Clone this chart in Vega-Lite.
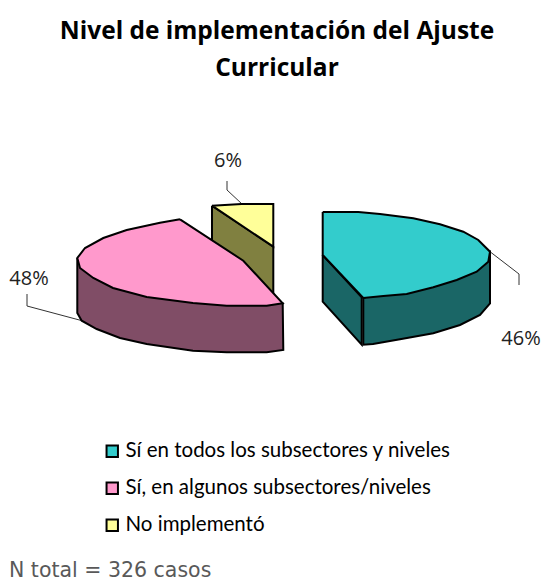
{
"$schema":"https://vega.github.io/schema/vega-lite/v6.json",
"width":544,"height":581,"padding":0,"autosize":{"type":"none"},
"background":"white",
"title":{"text":["Nivel de implementación del Ajuste","Curricular"],"orient":"top","anchor":"middle","frame":"group","offset":-81,"dx":5,"font":"Open Sans","fontSize":24.5,"fontWeight":"bold","color":"#000000","lineHeight":37},
"config":{"view":{"stroke":null}},
"datasets":{
"olive":[{"x":212,"y":205.7,"o":1},{"x":273.3,"y":246.7,"o":2},{"x":273.3,"y":300,"o":3},{"x":212,"y":250,"o":4},{"x":212,"y":205.7,"o":5}],
"pinkside":[{"x":77.3,"y":258,"o":1},{"x":77.3,"y":313,"o":2},{"x":81.7,"y":320.7,"o":3},{"x":96.7,"y":329,"o":4},{"x":120,"y":338,"o":5},{"x":146.7,"y":344,"o":6},{"x":193,"y":350.7,"o":7},{"x":226.7,"y":352.3,"o":8},{"x":266.7,"y":352.3,"o":9},{"x":283.3,"y":350,"o":10},{"x":282.7,"y":303.3,"o":11},{"x":77.3,"y":258,"o":12}],
"tealcut":[{"x":322.7,"y":255,"o":1},{"x":361.7,"y":297.3,"o":2},{"x":361.7,"y":344.7,"o":3},{"x":322.7,"y":301.7,"o":4},{"x":322.7,"y":255,"o":5}],
"tealside":[{"x":363.3,"y":298,"o":1},{"x":363.3,"y":344.7,"o":2},{"x":373,"y":344,"o":3},{"x":400,"y":339.3,"o":4},{"x":433.3,"y":333.3,"o":5},{"x":460,"y":325,"o":6},{"x":480,"y":315,"o":7},{"x":490,"y":303.3,"o":8},{"x":490,"y":251.7,"o":9},{"x":363.3,"y":298,"o":10}],
"tops":[
{"c":"Sí en todos los subsectores y niveles","x":322.7,"y":212,"o":1},{"c":"Sí en todos los subsectores y niveles","x":358.3,"y":212,"o":2},{"c":"Sí en todos los subsectores y niveles","x":380,"y":214,"o":3},{"c":"Sí en todos los subsectores y niveles","x":413.3,"y":218.3,"o":4},{"c":"Sí en todos los subsectores y niveles","x":440,"y":224.3,"o":5},{"c":"Sí en todos los subsectores y niveles","x":463.3,"y":231.7,"o":6},{"c":"Sí en todos los subsectores y niveles","x":478.3,"y":240,"o":7},{"c":"Sí en todos los subsectores y niveles","x":490,"y":251.7,"o":8},{"c":"Sí en todos los subsectores y niveles","x":488.3,"y":261.7,"o":9},{"c":"Sí en todos los subsectores y niveles","x":476.7,"y":271.7,"o":10},{"c":"Sí en todos los subsectores y niveles","x":456.7,"y":280,"o":11},{"c":"Sí en todos los subsectores y niveles","x":433.3,"y":287.3,"o":12},{"c":"Sí en todos los subsectores y niveles","x":406.7,"y":294,"o":13},{"c":"Sí en todos los subsectores y niveles","x":383.3,"y":296,"o":14},{"c":"Sí en todos los subsectores y niveles","x":363.3,"y":298,"o":15},{"c":"Sí en todos los subsectores y niveles","x":322.7,"y":255,"o":16},{"c":"Sí en todos los subsectores y niveles","x":322.7,"y":212,"o":17},
{"c":"Sí, en algunos subsectores/niveles","x":180,"y":219.3,"o":1},{"c":"Sí, en algunos subsectores/niveles","x":160,"y":222.7,"o":2},{"c":"Sí, en algunos subsectores/niveles","x":126.7,"y":230,"o":3},{"c":"Sí, en algunos subsectores/niveles","x":103.3,"y":238,"o":4},{"c":"Sí, en algunos subsectores/niveles","x":85,"y":248,"o":5},{"c":"Sí, en algunos subsectores/niveles","x":77.3,"y":258,"o":6},{"c":"Sí, en algunos subsectores/niveles","x":80,"y":268,"o":7},{"c":"Sí, en algunos subsectores/niveles","x":93.3,"y":278,"o":8},{"c":"Sí, en algunos subsectores/niveles","x":113,"y":288,"o":9},{"c":"Sí, en algunos subsectores/niveles","x":146.7,"y":297,"o":10},{"c":"Sí, en algunos subsectores/niveles","x":193,"y":303,"o":11},{"c":"Sí, en algunos subsectores/niveles","x":226.7,"y":305.7,"o":12},{"c":"Sí, en algunos subsectores/niveles","x":266.7,"y":305.7,"o":13},{"c":"Sí, en algunos subsectores/niveles","x":282.7,"y":303.3,"o":14},{"c":"Sí, en algunos subsectores/niveles","x":243.3,"y":260.7,"o":15},{"c":"Sí, en algunos subsectores/niveles","x":180,"y":219.3,"o":16},
{"c":"No implementó","x":212,"y":205.7,"o":1},{"c":"No implementó","x":241.7,"y":204,"o":2},{"c":"No implementó","x":273.3,"y":204,"o":3},{"c":"No implementó","x":273.3,"y":246.7,"o":4},{"c":"No implementó","x":212,"y":205.7,"o":5}
],
"leaders":[
{"s":"a","x":227,"y":181,"o":1},{"s":"a","x":227,"y":190,"o":2},{"s":"a","x":242,"y":204,"o":3},
{"s":"b","x":27,"y":294,"o":1},{"s":"b","x":27,"y":306,"o":2},{"s":"b","x":82,"y":320.7,"o":3},
{"s":"c","x":490,"y":251.7,"o":1},{"s":"c","x":519,"y":274,"o":2},{"s":"c","x":519,"y":285,"o":3}
],
"labels":[{"t":"6%","x":228,"y":161},{"t":"48%","x":29,"y":279},{"t":"46%","x":521,"y":339}],
"note":[{"t":"N total = 326 casos","x":9,"y":571}]
},
"encoding":{
"x":{"field":"x","type":"quantitative","scale":{"domain":[0,544]},"axis":null},
"y":{"field":"y","type":"quantitative","scale":{"domain":[581,0]},"axis":null}
},
"layer":[
{"data":{"name":"leaders"},"mark":{"type":"line","stroke":"#333333","strokeWidth":1},"encoding":{"detail":{"field":"s"},"order":{"field":"o"}}},
{"data":{"name":"olive"},"mark":{"type":"line","fill":"#808040","stroke":"#000000","strokeWidth":2},"encoding":{"order":{"field":"o"}}},
{"data":{"name":"pinkside"},"mark":{"type":"line","fill":"#804D66","stroke":"#000000","strokeWidth":2},"encoding":{"order":{"field":"o"}}},
{"data":{"name":"tealcut"},"mark":{"type":"line","fill":"#1A6666","stroke":"#000000","strokeWidth":2},"encoding":{"order":{"field":"o"}}},
{"data":{"name":"tealside"},"mark":{"type":"line","fill":"#1A6666","stroke":"#000000","strokeWidth":2},"encoding":{"order":{"field":"o"}}},
{"data":{"name":"tops"},"mark":{"type":"line","stroke":"#000000","strokeWidth":2},"encoding":{"order":{"field":"o"},"fill":{"field":"c","type":"nominal","sort":null,"scale":{"domain":["Sí en todos los subsectores y niveles","Sí, en algunos subsectores/niveles","No implementó"],"range":["#33CCCC","#FF99CC","#FFFF99"]},"legend":{"title":null,"orient":"none","legendX":102,"legendY":441,"columns":1,"symbolType":"square","symbolSize":130,"symbolStrokeColor":"#000000","symbolStrokeWidth":2,"symbolOpacity":1,"rowPadding":16,"labelFont":"Lato","labelFontSize":20.5,"labelColor":"#000000","labelOffset":3,"labelLimit":400}}}},
{"data":{"name":"labels"},"mark":{"type":"text","font":"Open Sans","fontSize":20,"color":"#222222"},"encoding":{"text":{"field":"t"}}},
{"data":{"name":"note"},"mark":{"type":"text","font":"DejaVu Sans","fontSize":20.5,"color":"#595959","align":"left"},"encoding":{"text":{"field":"t"}}}
]
}
